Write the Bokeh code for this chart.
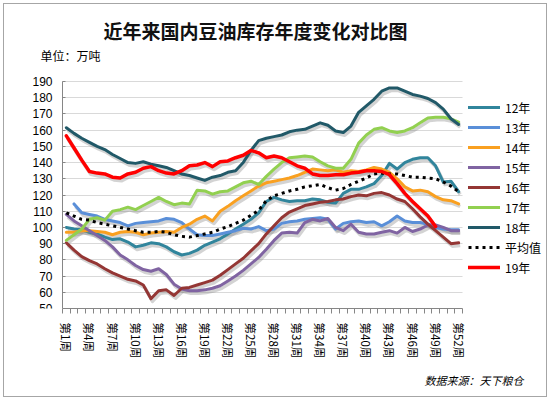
import numpy as np
from bokeh.plotting import figure
from bokeh.models import Range1d, FixedTicker, Legend, LegendItem, Label, Title
from bokeh.embed import file_html
from bokeh.resources import INLINE

nan = float("nan")

# Week index 1..52 and the week labels shown on the axis
weeks = list(range(1, 53))
week_ticks = list(range(1, 53, 3))
week_labels = {w: f"第{w}周" for w in week_ticks}

# Soybean oil stocks (10k tonnes) by week, one list per year
y12 = [100, 99, 98.5, 97, 96, 94, 92.5, 93, 91, 88, 89, 90.5, 90, 88, 85, 83,
       84, 86, 89, 91, 93, 96, 99, 102, 105, 109, 116, 118.5, 117, 116, 116.5,
       116.5, 117.5, 117, 115.5, 115, 121, 123.5, 123.5, 125, 127, 132, 139.5,
       136, 140, 142, 143, 143, 138, 128, 128.5, 122]
y13 = [nan, 114.5, 109, 108, 107, 105, 104, 103, 101, 102.5, 103, 103.5, 104,
       105.5, 105, 103, 99, 95.5, 95, 95, 96, 97, 98, 99.5, 99, 100.5, 98, 99,
       102.5, 103.5, 104, 105, 105.5, 106, 105, 99, 102.5, 103.5, 104, 103,
       103.5, 101, 103.5, 107, 104, 103, 103, 102, 100, 99, 98.5, 98.5]
y14 = [97, 97, 98, 98, 97.5, 97, 95.5, 97, 97.5, 97, 95.5, 96.5, 97, 97.5, 97,
       100, 102, 105, 107, 104, 110, 113, 116.5, 119.5, 122.5, 125.5, 127.5,
       128.5, 129.5, 130.5, 132, 134, 136, 135.5, 135, 135.5, 134, 135, 134.5,
       135.5, 137, 136, 134, 130, 125, 122.5, 123, 122, 119, 117, 116.5, 114.5]
y15 = [108, 104, 101, 98, 95, 92, 88, 83, 80, 76.5, 74, 73, 74.5, 71, 65, 62,
       61, 61, 61.5, 62.5, 64, 67, 70, 73.5, 77.5, 81.5, 86.5, 92, 96.5, 97,
       96.5, 103, 105, 104, 105.5, 100, 98, 102, 97, 96, 96, 97, 98, 96.5, 100,
       97.5, 99, 101.5, 101.5, 100, 98, 98]
y16 = [90.5, 86, 82, 79.5, 77.5, 74.5, 72, 70, 68, 67, 64.5, 56, 61, 61.5, 58,
       62.5, 63, 64.5, 66, 67.5, 70.5, 74, 77.5, 81, 85.5, 90, 96, 101, 106,
       109.5, 111.5, 113.5, 114.5, 115.5, 116, 117, 117.5, 119, 120, 119.5, 121,
       121.5, 120, 117.5, 116, 111.5, 106.5, 102, 98, 94, 90, 90.5]
y17 = [92, 95.5, 99, 105, 106, 104.5, 110, 111, 112.5, 111, 113.5, 116, 118.5,
       116, 114, 115, 114.5, 123, 122.5, 120.5, 122, 122.5, 125, 127.5, 128.5,
       126.5, 131.5, 136, 140, 143, 143.5, 144, 143.5, 140.5, 138, 136.5, 136.5,
       142, 152, 157, 160.5, 161.5, 159.5, 158.5, 159.5, 161.5, 164.5, 167.5,
       168, 168, 167, 165]
y18 = [161.5, 158, 155, 152.5, 150, 148, 145, 142.5, 140, 139.5, 140.5, 139,
       138, 137, 135, 133, 132, 130.5, 129, 131, 132, 134, 135, 140, 147.5,
       153.5, 155, 156, 157, 159, 160, 160.5, 162.5, 164.5, 163, 159.5, 158.5,
       162.5, 171, 175, 179, 184, 186, 186, 184, 182, 181, 179.5, 177, 173,
       167, 163.5]
y_avg = [109, 107, 105, 104.5, 103, 102, 101, 100, 99, 98, 97, 97, 97.5, 97,
         95.5, 94.5, 94, 95, 96, 97, 99, 100.5, 102.5, 104.5, 107.5, 110.5,
         116.5, 119.5, 121, 122.5, 123.5, 125, 125.7, 126.5, 124.5, 123, 124,
         126.5, 128.5, 130.5, 133, 133.5, 133, 133, 132, 131, 131, 130.5, 130,
         128, 125.5, 122]
y19 = [156.5, 149, 141.5, 134.5, 133.5, 133, 131, 130.5, 133, 134, 136.5,
       137.5, 135, 133.5, 133, 135, 138, 138.5, 140, 137.5, 140.5, 141, 143,
       144.5, 147.5, 146, 143, 144, 143, 140.5, 138, 136.5, 133, 132, 132,
       132.5, 132.5, 133.5, 134, 135, 135, 134.5, 132.5, 127, 121, 116, 111.5,
       107, 100.5, nan, nan, nan]

series = [
    ("12年", y12, "#31859C", 3.0, "solid"),
    ("13年", y13, "#5A8FD8", 3.0, "solid"),
    ("14年", y14, "#F9A020", 3.0, "solid"),
    ("15年", y15, "#8064A2", 3.0, "solid"),
    ("16年", y16, "#943634", 3.0, "solid"),
    ("17年", y17, "#92D050", 3.0, "solid"),
    ("18年", y18, "#215968", 3.0, "solid"),
    ("平均值", y_avg, "#000000", 3.0, "3 4"),
    ("19年", y19, "#FF0000", 3.5, "solid"),
]

CJK = "Noto Sans CJK SC"

# Page geometry (px): the frame runs from FRAME_LEFT to the right edge and
# from the top edge down to the category axis; the value axis is pinned
# at the first category boundary.
W, H = 550, 400
FRAME_LEFT, FRAME_BOTTOM = 30, 308
AXIS_X, PLOT_RIGHT, PLOT_TOP = 62, 462, 81
X0, X1, Y0, Y1 = 0.5, 52.5, 50, 190
px_x = (PLOT_RIGHT - AXIS_X) / (X1 - X0)
px_y = (FRAME_BOTTOM - PLOT_TOP) / (Y1 - Y0)
x_range = Range1d(X0 - (AXIS_X - FRAME_LEFT) / px_x, X1 + (W - PLOT_RIGHT) / px_x)
y_range = Range1d(Y0, Y1 + PLOT_TOP / px_y)

p = figure(width=W, height=H, output_backend="svg", toolbar_location=None,
           x_range=x_range, y_range=y_range,
           min_border_left=FRAME_LEFT, min_border_right=0, min_border_top=0,
           min_border_bottom=H - FRAME_BOTTOM)
p.outline_line_color = None
p.background_fill_alpha = 0
p.border_fill_alpha = 0
p.styles = {"box-shadow": "inset 0 0 0 3px #FFFFFF, inset 0 0 0 4px #A6A6A6",
            "background-color": "#FFFFFF"}

# axes
p.xgrid.grid_line_color = None
p.ygrid.grid_line_color = "#D9D9D9"
p.ygrid.grid_line_width = 1
p.ygrid.cross_bounds = (X0, X1)

p.yaxis.fixed_location = X0
p.yaxis.bounds = (Y0, Y1)
p.yaxis.ticker = FixedTicker(ticks=list(range(Y0, Y1 + 1, 10)), minor_ticks=[])
p.yaxis.axis_line_color = "#868686"
p.yaxis.major_tick_line_color = "#868686"
p.yaxis.major_tick_in = 3
p.yaxis.major_tick_out = 0
p.yaxis.major_label_standoff = 10
p.yaxis.major_label_text_font = "Liberation Sans"
p.yaxis.major_label_text_font_size = "12px"
p.yaxis.major_label_text_color = "#000000"

p.xaxis.bounds = (X0, X1)
p.xaxis.ticker = FixedTicker(ticks=week_ticks,
                             minor_ticks=[w - 0.5 for w in range(1, 54)])
p.xaxis.major_label_overrides = week_labels
p.xaxis.major_label_orientation = "vertical"
p.xaxis.axis_line_color = "#868686"
p.xaxis.major_tick_line_color = None
p.xaxis.minor_tick_line_color = "#868686"
p.xaxis.minor_tick_in = 0
p.xaxis.minor_tick_out = 5
p.xaxis.major_label_standoff = 8
p.xaxis.major_label_text_font = CJK
p.xaxis.major_label_text_font_size = "11.5px"
p.xaxis.major_label_text_color = "#000000"

x = np.array(weeks, dtype=float)

# soft drop shadows under the solid lines
for name, ys, color, lw, dash in series:
    if dash != "solid":
        continue
    yy = np.array(ys, dtype=float)
    p.line(x + 0.2, yy - 1.6, line_color="#808080", line_alpha=0.35,
           line_width=lw + 0.5, line_join="round")

items = []
for name, ys, color, lw, dash in series:
    yy = np.array(ys, dtype=float)
    r = p.line(x, yy, line_color=color, line_width=lw, line_dash=dash,
               line_join="round", line_cap="butt" if dash != "solid" else "round")
    items.append(LegendItem(label=name, renderers=[r]))

legend = Legend(items=items, location=(468 - FRAME_LEFT, FRAME_BOTTOM - 277),
                orientation="vertical",
                glyph_width=32, glyph_height=20, label_height=20,
                label_standoff=5, spacing=0, padding=0, margin=0,
                border_line_color=None, background_fill_alpha=0,
                label_text_font=CJK, label_text_font_size="12px",
                label_text_color="#000000")
p.add_layout(legend, "center")

p.add_layout(Label(x=255 - FRAME_LEFT, y=FRAME_BOTTOM - 30, x_units="screen",
                   y_units="screen", text="近年来国内豆油库存年度变化对比图",
                   text_font=CJK, text_font_size="19px", text_font_style="bold",
                   text_align="center", text_baseline="middle",
                   text_color="#111111"))
p.add_layout(Label(x=40 - FRAME_LEFT, y=FRAME_BOTTOM - 55, x_units="screen",
                   y_units="screen", text="单位：万吨", text_font=CJK,
                   text_font_size="12px", text_align="left",
                   text_baseline="middle", text_color="#000000"))

# data source note under the axis labels
p.add_layout(Title(text="数据来源：天下粮仓", align="right", offset=27,
                   standoff=17, text_font=CJK, text_font_size="11px",
                   text_font_style="italic", text_color="#000000"), "below")

open("out.html", "w").write(file_html(p, INLINE))
